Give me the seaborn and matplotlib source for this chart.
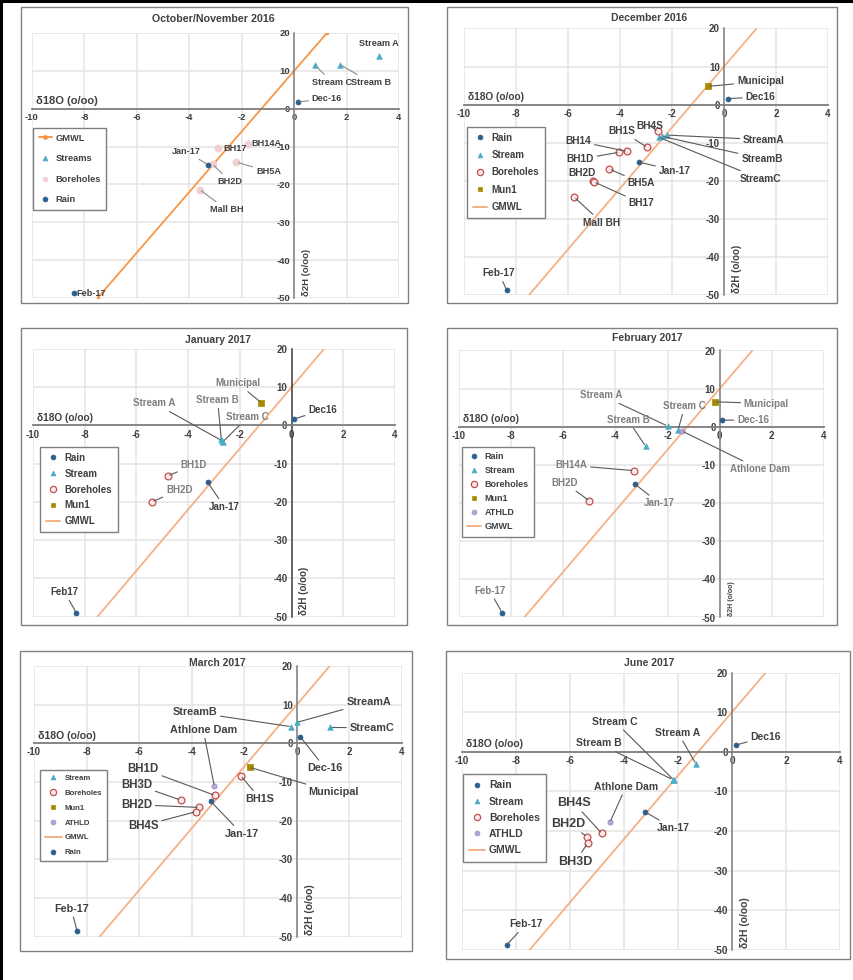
import matplotlib
matplotlib.use("Agg")
import matplotlib.pyplot as plt
import seaborn as sns
from matplotlib.patches import Rectangle
from matplotlib.lines import Line2D

sns.set_style("white")
plt.rcParams["font.family"] = ["Liberation Sans", "DejaVu Sans"]
plt.rcParams["axes.unicode_minus"] = False

W, H = 854, 980

# Global Meteoric Water Line end points (d2H = 8 * d18O + 10)
GMWL_D18O = [-7.5, 1.25]
GMWL_D2H = [-50.0, 20.0]

X_TICKS = [-10, -8, -6, -4, -2, 0, 2, 4]
Y_TICKS = [20, 10, 0, -10, -20, -30, -40, -50]

# ---------------- October/November 2016 ----------------
OCT_RAIN_NAMES = ["Dec-16", "Jan-17", "Feb-17"]
OCT_RAIN_D18O = [0.14, -3.29, -8.40]
OCT_RAIN_D2H = [1.8, -14.8, -48.6]
OCT_STREAM_NAMES = ["Stream A", "Stream C", "Stream B"]
OCT_STREAM_D18O = [3.24, 0.80, 1.76]
OCT_STREAM_D2H = [14.0, 11.5, 11.6]
OCT_BH_NAMES = ["BH17", "BH14A", "BH2D", "BH5A", "Mall BH"]
OCT_BH_D18O = [-2.90, -1.75, -3.10, -2.20, -3.60]
OCT_BH_D2H = [-10.4, -9.3, -14.7, -14.1, -21.4]

# ---------------- December 2016 ----------------
DEC_RAIN_NAMES = ["Dec16", "Jan-17", "Feb-17"]
DEC_RAIN_D18O = [0.17, -3.27, -8.36]
DEC_RAIN_D2H = [1.6, -15.1, -48.7]
DEC_STREAM_NAMES = ["StreamA", "StreamB", "StreamC"]
DEC_STREAM_D18O = [-2.18, -2.40, -2.50]
DEC_STREAM_D2H = [-8.0, -8.3, -8.6]
DEC_BH_NAMES = ["BH4S", "BH1S", "BH14", "BH1D", "BH5A", "BH2D", "BH17", "Mall BH"]
DEC_BH_D18O = [-2.55, -2.95, -3.73, -4.03, -4.41, -5.05, -5.00, -5.76]
DEC_BH_D2H = [-7.0, -11.2, -12.3, -12.5, -16.9, -20.0, -20.3, -24.3]
DEC_MUN_NAMES = ["Municipal"]
DEC_MUN_D18O = [-0.61]
DEC_MUN_D2H = [4.8]

# ---------------- January 2017 ----------------
JAN_RAIN_NAMES = ["Dec16", "Jan-17", "Feb17"]
JAN_RAIN_D18O = [0.10, -3.24, -8.33]
JAN_RAIN_D2H = [1.7, -14.9, -49.0]
JAN_STREAM_NAMES = ["Stream A", "Stream B", "Stream C"]
JAN_STREAM_D18O = [-2.69, -2.72, -2.66]
JAN_STREAM_D2H = [-4.0, -3.6, -4.3]
JAN_BH_NAMES = ["BH1D", "BH2D"]
JAN_BH_D18O = [-4.79, -5.40]
JAN_BH_D2H = [-13.2, -20.0]
JAN_MUN_NAMES = ["Municipal"]
JAN_MUN_D18O = [-1.18]
JAN_MUN_D2H = [6.0]

# ---------------- February 2017 ----------------
FEB_RAIN_NAMES = ["Dec-16", "Jan-17", "Feb-17"]
FEB_RAIN_D18O = [0.10, -3.26, -8.35]
FEB_RAIN_D2H = [1.75, -15.0, -48.7]
FEB_STREAM_NAMES = ["Stream A", "Stream B", "Stream C"]
FEB_STREAM_D18O = [-2.00, -2.84, -1.60]
FEB_STREAM_D2H = [0.2, -5.1, -0.9]
FEB_BH_NAMES = ["BH14A", "BH2D"]
FEB_BH_D18O = [-3.29, -5.00]
FEB_BH_D2H = [-11.5, -19.4]
FEB_MUN_NAMES = ["Municipal"]
FEB_MUN_D18O = [-0.19]
FEB_MUN_D2H = [6.55]
FEB_ATH_NAMES = ["Athlone Dam"]
FEB_ATH_D18O = [-1.45]
FEB_ATH_D2H = [-1.1]

# ---------------- March 2017 ----------------
MAR_STREAM_NAMES = ["StreamA", "StreamB", "StreamC"]
MAR_STREAM_D18O = [0.00, -0.22, 1.27]
MAR_STREAM_D2H = [5.4, 4.3, 4.1]
MAR_BH_NAMES = ["BH1S", "BH1D", "BH3D", "BH2D", "BH4S"]
MAR_BH_D18O = [-2.13, -3.11, -4.42, -3.72, -3.84]
MAR_BH_D2H = [-8.4, -13.5, -14.7, -16.6, -17.7]
MAR_MUN_NAMES = ["Municipal"]
MAR_MUN_D18O = [-1.80]
MAR_MUN_D2H = [-6.2]
MAR_ATH_NAMES = ["Athlone Dam"]
MAR_ATH_D18O = [-3.14]
MAR_ATH_D2H = [-11.1]
MAR_RAIN_NAMES = ["Dec-16", "Jan-17", "Feb-17"]
MAR_RAIN_D18O = [0.13, -3.28, -8.36]
MAR_RAIN_D2H = [1.7, -15.0, -48.7]

# ---------------- June 2017 ----------------
JUN_RAIN_NAMES = ["Dec16", "Jan-17", "Feb-17"]
JUN_RAIN_D18O = [0.15, -3.23, -8.34]
JUN_RAIN_D2H = [1.7, -15.1, -48.7]
JUN_STREAM_NAMES = ["Stream A", "Stream B", "Stream C"]
JUN_STREAM_D18O = [-1.33, -2.20, -2.16]
JUN_STREAM_D2H = [-3.1, -7.0, -7.1]
JUN_BH_NAMES = ["BH4S", "BH2D", "BH3D"]
JUN_BH_D18O = [-4.82, -5.37, -5.35]
JUN_BH_D2H = [-20.6, -21.4, -23.1]
JUN_ATH_NAMES = ["Athlone Dam"]
JUN_ATH_D18O = [-4.52]
JUN_ATH_D2H = [-17.8]

# ---------------- marker styles ----------------
STYLE = {
    "rain": dict(marker="o", s=13, color="#2b5d8e", edgecolor="#2b5d8e", linewidth=0.5),
    "stream": dict(marker="^", s=16, color="#4bacc6", edgecolor="#4bacc6", linewidth=0.5),
    "bh": dict(marker="o", s=24, color="#fbe9ea", edgecolor="#c0504d", linewidth=0.9),
    "bh_pale": dict(marker="o", s=26, color="#f2cfd0", edgecolor="#f2cfd0", linewidth=0.5),
    "mun": dict(marker="s", s=14, color="#a68a00", edgecolor="#a68a00", linewidth=0.5),
    "ath": dict(marker="o", s=14, color="#b9a8d6", edgecolor="#9c86c4", linewidth=0.5),
}
GMWL_COLOR = "#f4b183"

fig = plt.figure(figsize=(W / 100, H / 100), dpi=100)


def fx(px):
    return px / W


def fy(py):
    return 1 - py / H


def legend_handle(kind, gmwl_color, gmwl_marker):
    if kind == "gmwl":
        return Line2D([], [], color=gmwl_color, lw=1.4,
                      marker="o" if gmwl_marker else None, markersize=2.5)
    st = STYLE[kind]
    mk = st["marker"]
    size = 4.5 if kind == "bh" else 3.5
    return Line2D([], [], ls="none", marker=mk, markersize=size,
                  markerfacecolor=st["color"], markeredgecolor=st["edgecolor"],
                  markeredgewidth=0.9 if kind == "bh" else 0.5)


def draw_panel(p):
    fl, ft, fr, fb = p["frame"]
    fig.add_artist(Rectangle((fx(fl), fy(fb)), (fr - fl) / W, (fb - ft) / H,
                             transform=fig.transFigure, fill=False,
                             edgecolor="#808080", lw=1.0))
    l, r, t, b = p["axes"]
    ax = fig.add_axes([fx(l), fy(b), (r - l) / W, (b - t) / H])
    ax.patch.set_alpha(0)
    ax.set_xlim(-10, 4)
    ax.set_ylim(-50, 20)
    ax.set_xticks(X_TICKS)
    ax.set_yticks(Y_TICKS)
    ax.grid(True, color="#e4e4e4", lw=1.1)
    ax.set_axisbelow(True)
    for s in ("top", "right"):
        ax.spines[s].set_visible(False)
    ax.spines["left"].set_position(("data", 0))
    ax.spines["bottom"].set_position(("data", 0))
    ax.spines["left"].set_color(p.get("yaxis_color", "#7f7f7f"))
    ax.spines["bottom"].set_color("#7f7f7f")
    ax.spines["left"].set_linewidth(1.1)
    ax.spines["bottom"].set_linewidth(1.3)
    ax.tick_params(length=0, labelsize=p["tick_fs"], labelcolor="#404040", pad=3)
    for lab in ax.get_xticklabels() + ax.get_yticklabels():
        lab.set_fontweight("bold")
    ax.set_xlabel("")
    ax.set_ylabel("")

    # GMWL reference line
    sns.lineplot(x=GMWL_D18O, y=GMWL_D2H, ax=ax, color=p["gmwl_color"], lw=1.3,
                 marker="o" if p["gmwl_marker"] else None, markersize=2.5,
                 markeredgewidth=0, legend=False, zorder=2)

    # sample groups
    for kind, names, xs, ys in p["series"]:
        sns.scatterplot(x=xs, y=ys, ax=ax, legend=False, zorder=3, **STYLE[kind])
        for n, x, y in zip(names, xs, ys):
            tx, ty, leader = p["labels"][n]
            size = p["label_fs"]
            if n in p.get("big", ()):
                size = p["big_fs"]
            color = p.get("label_colors", {}).get(n, p["label_color"])
            arrow = None
            if leader:
                arrow = dict(arrowstyle="-", color=p["leader_color"], lw=0.8,
                             shrinkA=0, shrinkB=1.5)
            ax.annotate(n, xy=(x, y), xytext=(tx, ty), textcoords="data",
                        ha="center", va="center", fontsize=size,
                        fontweight="bold", color=color, arrowprops=arrow,
                        annotation_clip=False, zorder=4)

    ax.text(-9.85, 0.6, "\u03b418O (o/oo)", ha="left", va="bottom",
            fontsize=p["d18_fs"], fontweight="bold", color="#404040")
    ax.text(0.3, -49.5, "\u03b42H (o/oo)", ha="left", va="bottom", rotation=90,
            fontsize=p["d2h_fs"], fontweight="bold", color="#404040")

    # legend
    handles = [legend_handle(k, p["gmwl_color"], p["gmwl_marker"]) for k, _ in p["legend"]]
    labels = [lab for _, lab in p["legend"]]
    lx, ly = p["legend_xy"]
    leg = ax.legend(handles, labels, loc="upper left",
                    bbox_to_anchor=(fx(lx), fy(ly)), bbox_transform=fig.transFigure,
                    frameon=True, fancybox=False, framealpha=1, edgecolor="#7f7f7f",
                    borderaxespad=0, handlelength=p["handlelength"], handletextpad=0.4,
                    labelspacing=p["legend_spacing"], borderpad=0.6,
                    prop=dict(weight="bold", size=p["legend_fs"]))
    leg.get_frame().set_linewidth(1.0)
    for txt in leg.get_texts():
        txt.set_color("#404040")
    leg.set_zorder(5)

    cx, cy = p["title_xy"]
    fig.text(fx(cx), fy(cy), p["title"], ha="center", va="center",
             fontsize=p["title_fs"], fontweight="bold", color="#404040")


PANELS = [
    dict(
        title="October/November 2016", title_xy=(213, 19), title_fs=7.7,
        frame=(21, 7, 408, 303), axes=(32, 399, 33, 298),
        tick_fs=6.8, label_fs=6.6, d18_fs=8, d2h_fs=6.8, label_color="#404040",
        leader_color="#8c8c8c", gmwl_color="#f79646", gmwl_marker=True,
        series=[
            ("stream", OCT_STREAM_NAMES, OCT_STREAM_D18O, OCT_STREAM_D2H),
            ("bh_pale", OCT_BH_NAMES, OCT_BH_D18O, OCT_BH_D2H),
            ("rain", OCT_RAIN_NAMES, OCT_RAIN_D18O, OCT_RAIN_D2H),
        ],
        labels={
            "Stream A": (3.24, 17.2, False), "Stream C": (1.45, 7.0, True),
            "Stream B": (2.92, 7.0, True), "Dec-16": (1.25, 2.6, True),
            "Jan-17": (-4.12, -11.3, True), "Feb-17": (-7.76, -48.8, False),
            "BH17": (-2.26, -10.6, False), "BH14A": (-1.05, -9.3, False),
            "BH2D": (-2.46, -19.2, True), "BH5A": (-0.98, -16.6, True),
            "Mall BH": (-2.58, -26.6, True),
        },
        legend=[("gmwl", "GMWL"), ("stream", "Streams"), ("bh_pale", "Boreholes"),
                ("rain", "Rain")],
        legend_xy=(33, 128), legend_fs=6.7, legend_spacing=1.25, handlelength=1.4,
    ),
    dict(
        title="December 2016", title_xy=(649, 18), title_fs=7.5,
        frame=(447, 7, 837, 303), axes=(464, 828, 28.5, 295),
        tick_fs=7, label_fs=7.3, d18_fs=7.3, d2h_fs=7, label_color="#404040",
        leader_color="#595959", gmwl_color=GMWL_COLOR, gmwl_marker=False,
        series=[
            ("rain", DEC_RAIN_NAMES, DEC_RAIN_D18O, DEC_RAIN_D2H),
            ("stream", DEC_STREAM_NAMES, DEC_STREAM_D18O, DEC_STREAM_D2H),
            ("bh", DEC_BH_NAMES, DEC_BH_D18O, DEC_BH_D2H),
            ("mun", DEC_MUN_NAMES, DEC_MUN_D18O, DEC_MUN_D2H),
        ],
        labels={
            "Municipal": (1.4, 6.1, True), "Dec16": (1.4, 2.0, True),
            "BH4S": (-2.86, -5.5, True), "StreamA": (1.53, -9.2, True),
            "StreamB": (1.46, -14.2, True), "StreamC": (1.4, -19.5, True),
            "BH1S": (-3.94, -7.0, True), "BH14": (-5.6, -9.6, True),
            "BH1D": (-5.53, -14.3, True), "Jan-17": (-1.9, -17.3, True),
            "BH5A": (-3.18, -20.6, True), "BH2D": (-5.47, -18.0, False),
            "BH17": (-3.18, -25.9, True), "Mall BH": (-4.7, -31.0, True),
            "Feb-17": (-8.65, -44.3, True),
        },
        legend=[("rain", "Rain"), ("stream", "Stream"), ("bh", "Boreholes"),
                ("mun", "Mun1"), ("gmwl", "GMWL")],
        legend_xy=(467, 127), legend_fs=7, legend_spacing=0.75, handlelength=1.5,
    ),
    dict(
        title="January 2017", title_xy=(218, 340), title_fs=7.5,
        frame=(21, 328, 407, 625), axes=(33, 395, 349, 616.5),
        tick_fs=7, label_fs=7, d18_fs=7.3, d2h_fs=7, label_color="#7f7f7f",
        label_colors={"Dec16": "#404040", "Jan-17": "#404040", "Feb17": "#404040"},
        leader_color="#595959", gmwl_color=GMWL_COLOR, gmwl_marker=False,
        yaxis_color="#404040",
        series=[
            ("rain", JAN_RAIN_NAMES, JAN_RAIN_D18O, JAN_RAIN_D2H),
            ("stream", JAN_STREAM_NAMES, JAN_STREAM_D18O, JAN_STREAM_D2H),
            ("bh", JAN_BH_NAMES, JAN_BH_D18O, JAN_BH_D2H),
            ("mun", JAN_MUN_NAMES, JAN_MUN_D18O, JAN_MUN_D2H),
        ],
        labels={
            "Municipal": (-2.08, 11.0, True), "Dec16": (1.2, 4.0, True),
            "Stream A": (-5.3, 5.8, True), "Stream B": (-2.86, 6.6, True),
            "Stream C": (-1.7, 2.1, True), "BH1D": (-3.78, -10.4, True),
            "Jan-17": (-2.6, -21.3, True), "BH2D": (-4.34, -16.9, True),
            "Feb17": (-8.78, -43.6, True),
        },
        legend=[("rain", "Rain"), ("stream", "Stream"), ("bh", "Boreholes"),
                ("mun", "Mun1"), ("gmwl", "GMWL")],
        legend_xy=(40, 447), legend_fs=7, legend_spacing=0.6, handlelength=1.5,
    ),
    dict(
        title="February 2017", title_xy=(647, 338), title_fs=7.5,
        frame=(447, 328, 837, 625), axes=(459, 824, 350.5, 617.5),
        tick_fs=7, label_fs=7, d18_fs=7.3, d2h_fs=5, label_color="#7f7f7f",
        leader_color="#595959", gmwl_color=GMWL_COLOR, gmwl_marker=False,
        series=[
            ("rain", FEB_RAIN_NAMES, FEB_RAIN_D18O, FEB_RAIN_D2H),
            ("stream", FEB_STREAM_NAMES, FEB_STREAM_D18O, FEB_STREAM_D2H),
            ("bh", FEB_BH_NAMES, FEB_BH_D18O, FEB_BH_D2H),
            ("mun", FEB_MUN_NAMES, FEB_MUN_D18O, FEB_MUN_D2H),
            ("ath", FEB_ATH_NAMES, FEB_ATH_D18O, FEB_ATH_D2H),
        ],
        labels={
            "Municipal": (1.79, 6.1, True), "Dec-16": (1.28, 1.75, True),
            "Stream A": (-4.54, 8.3, True), "Stream B": (-3.52, 1.75, True),
            "Stream C": (-1.34, 5.4, True), "Athlone Dam": (1.53, -11.1, True),
            "BH14A": (-5.69, -10.1, True), "Jan-17": (-2.3, -20.1, True),
            "BH2D": (-5.95, -14.7, True), "Feb-17": (-8.82, -43.0, True),
        },
        legend=[("rain", "Rain"), ("stream", "Stream"), ("bh", "Boreholes"),
                ("mun", "Mun1"), ("ath", "ATHLD"), ("gmwl", "GMWL")],
        legend_xy=(462, 447), legend_fs=6.5, legend_spacing=0.55, handlelength=1.5,
    ),
    dict(
        title="March 2017", title_xy=(217, 663), title_fs=7.5,
        frame=(20, 651, 412, 951), axes=(34, 402, 666, 936.5),
        tick_fs=7, label_fs=7.8, d18_fs=7.6, d2h_fs=7.5, label_color="#404040",
        big=("BH1D", "BH3D", "BH2D", "BH4S"), big_fs=8.3,
        leader_color="#595959", gmwl_color=GMWL_COLOR, gmwl_marker=False,
        series=[
            ("stream", MAR_STREAM_NAMES, MAR_STREAM_D18O, MAR_STREAM_D2H),
            ("bh", MAR_BH_NAMES, MAR_BH_D18O, MAR_BH_D2H),
            ("mun", MAR_MUN_NAMES, MAR_MUN_D18O, MAR_MUN_D2H),
            ("ath", MAR_ATH_NAMES, MAR_ATH_D18O, MAR_ATH_D2H),
            ("rain", MAR_RAIN_NAMES, MAR_RAIN_D18O, MAR_RAIN_D2H),
        ],
        labels={
            "StreamA": (2.73, 10.6, True), "StreamB": (-3.88, 8.0, True),
            "StreamC": (2.86, 4.0, True), "Dec-16": (1.08, -6.5, True),
            "Municipal": (1.4, -12.7, True), "BH1S": (-1.4, -14.4, True),
            "Athlone Dam": (-3.56, 3.4, True), "BH1D": (-5.85, -6.6, True),
            "BH3D": (-6.1, -10.7, True), "Jan-17": (-2.1, -23.4, True),
            "BH2D": (-6.1, -15.9, True), "BH4S": (-5.85, -21.3, True),
            "Feb-17": (-8.58, -42.8, True),
        },
        legend=[("stream", "Stream"), ("bh", "Boreholes"), ("mun", "Mun1"),
                ("ath", "ATHLD"), ("gmwl", "GMWL"), ("rain", "Rain")],
        legend_xy=(40, 770), legend_fs=5.6, legend_spacing=0.95, handlelength=2.2,
    ),
    dict(
        title="June 2017", title_xy=(649, 663), title_fs=7.5,
        frame=(446, 651, 850, 959), axes=(462, 840, 672.5, 950),
        tick_fs=7.2, label_fs=7.5, d18_fs=7.5, d2h_fs=7.5, label_color="#404040",
        big=("BH4S", "BH2D", "BH3D"), big_fs=9,
        leader_color="#595959", gmwl_color=GMWL_COLOR, gmwl_marker=False,
        series=[
            ("rain", JUN_RAIN_NAMES, JUN_RAIN_D18O, JUN_RAIN_D2H),
            ("stream", JUN_STREAM_NAMES, JUN_STREAM_D18O, JUN_STREAM_D2H),
            ("bh", JUN_BH_NAMES, JUN_BH_D18O, JUN_BH_D2H),
            ("ath", JUN_ATH_NAMES, JUN_ATH_D18O, JUN_ATH_D2H),
        ],
        labels={
            "Dec16": (1.25, 3.8, True), "Stream A": (-2.0, 4.8, True),
            "Stream C": (-4.33, 7.6, True), "Stream B": (-4.94, 2.1, True),
            "Jan-17": (-2.18, -19.3, True), "Athlone Dam": (-3.93, -8.8, True),
            "BH4S": (-5.87, -12.8, True), "BH2D": (-6.07, -18.1, True),
            "BH3D": (-5.8, -27.7, True), "Feb-17": (-7.64, -43.5, True),
        },
        legend=[("rain", "Rain"), ("stream", "Stream"), ("bh", "Boreholes"),
                ("ath", "ATHLD"), ("gmwl", "GMWL")],
        legend_xy=(463, 774), legend_fs=7.5, legend_spacing=0.6, handlelength=1.5,
    ),
]

for panel in PANELS:
    draw_panel(panel)

# outer page rules along the top and left edges
fig.add_artist(Line2D([0, 1], [fy(1), fy(1)], transform=fig.transFigure,
                      color="black", lw=2.2))
fig.add_artist(Line2D([fx(1), fx(1)], [0, 1], transform=fig.transFigure,
                      color="black", lw=2.2))

fig.savefig("out.png", dpi=100)
